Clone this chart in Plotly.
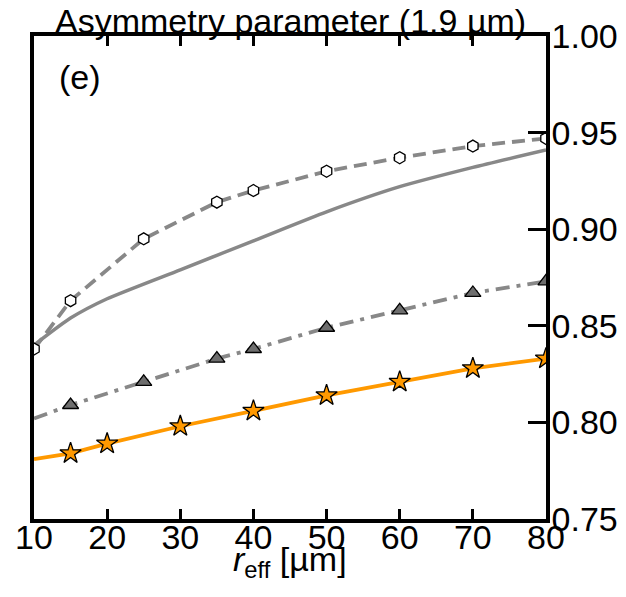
import plotly.graph_objects as go

# Data
r_hex = [10, 15, 25, 35, 40, 50, 60, 70, 80]
g_hex = [0.838, 0.863, 0.895, 0.914, 0.920, 0.930, 0.937, 0.943, 0.947]

r_solid = [10, 15, 20, 30, 40, 50, 60, 70, 80]
g_solid = [0.840, 0.854, 0.864, 0.879, 0.894, 0.909, 0.922, 0.932, 0.941]

r_tri = [10, 15, 25, 35, 40, 50, 60, 70, 80]
g_tri = [0.802, 0.809, 0.821, 0.833, 0.838, 0.849, 0.858, 0.867, 0.873]

r_star = [10, 15, 20, 30, 40, 50, 60, 70, 80]
g_star = [0.781, 0.784, 0.789, 0.798, 0.806, 0.814, 0.821, 0.828, 0.833]

x_ticks = [10, 20, 30, 40, 50, 60, 70, 80]
y_ticks = [0.75, 0.80, 0.85, 0.90, 0.95, 1.00]

GRAY = "#888888"
ORANGE = "#ff9900"
FONT = "Liberation Sans, Arial, sans-serif"
FS = 34

# page body adds an 8px margin; figure is sized/offset to compensate
OFF = 8
W, H = 626 - OFF, 597 - OFF
ML, MT = 34 - OFF, 36 - OFF
MR, MB = 80, 78

fig = go.Figure()

fig.add_trace(go.Scatter(x=r_solid, y=g_solid, mode="lines", line_shape="spline",
                         line=dict(color=GRAY, width=3.5, smoothing=0.6),
                         showlegend=False))
fig.add_trace(go.Scatter(x=r_hex, y=g_hex, mode="lines+markers",
                         line=dict(color=GRAY, width=3.8, dash="13px,7px"),
                         marker=dict(symbol="hexagon", size=12, color="white",
                                     line=dict(color="black", width=1.3)),
                         showlegend=False))
fig.add_trace(go.Scatter(x=r_tri, y=g_tri, mode="lines",
                         line=dict(color=GRAY, width=3.8, dash="14px,7px,4px,7px"),
                         showlegend=False))
fig.add_trace(go.Scatter(x=r_tri[1:], y=g_tri[1:], mode="markers",
                         marker=dict(symbol="triangle-up", size=14, color="#6e6e6e",
                                     line=dict(color="black", width=1.3)),
                         showlegend=False))
fig.add_trace(go.Scatter(x=r_star, y=g_star, mode="lines",
                         line=dict(color=ORANGE, width=3.8), showlegend=False))
fig.add_trace(go.Scatter(x=r_star[1:], y=g_star[1:], mode="markers",
                         marker=dict(symbol="star", size=16, color=ORANGE,
                                     line=dict(color="black", width=1.3)),
                         showlegend=False))

plot_h = H - MT - MB
plot_w = W - ML - MR

fig.update_layout(
    width=W, height=H,
    margin=dict(l=ML, r=MR, t=MT, b=MB, autoexpand=False),
    paper_bgcolor="white", plot_bgcolor="white",
    font=dict(family=FONT, size=FS, color="black"),
    xaxis=dict(range=[10, 80], tickvals=x_ticks, ticks="inside", ticklen=10,
               tickwidth=2.5, tickcolor="black", showline=True, linecolor="black",
               linewidth=3.5, mirror="ticks", showgrid=False, zeroline=False,
               automargin=False, tickfont=dict(size=FS), ticklabelstandoff=-15),
    yaxis=dict(range=[0.75, 1.00], tickvals=y_ticks, tickformat=".2f", side="right",
               ticks="inside", ticklen=18, tickwidth=2.5, tickcolor="black",
               showline=True, linecolor="black", linewidth=3.5, mirror=True,
               showgrid=False, zeroline=False, automargin=False,
               tickfont=dict(size=FS), ticklabelstandoff=-5),
    annotations=[
        dict(text="Asymmetry parameter (1.9 µm)", x=0.5, y=1 + (36 - 21) / plot_h,
             xref="paper", yref="paper", xanchor="center", yanchor="middle",
             showarrow=False, font=dict(size=FS)),
        dict(text="(e)", x=(80 - 34) / plot_w, y=1 - (77 - 36) / plot_h,
             xref="paper", yref="paper", xanchor="center", yanchor="middle",
             showarrow=False, font=dict(size=FS)),
        dict(text="<i>r</i><sub>eff</sub> [µm]", x=0.5, y=-(561 - 519) / plot_h,
             xref="paper", yref="paper", xanchor="center", yanchor="middle",
             showarrow=False, font=dict(size=FS)),
    ],
)

fig.write_html("out.html")
